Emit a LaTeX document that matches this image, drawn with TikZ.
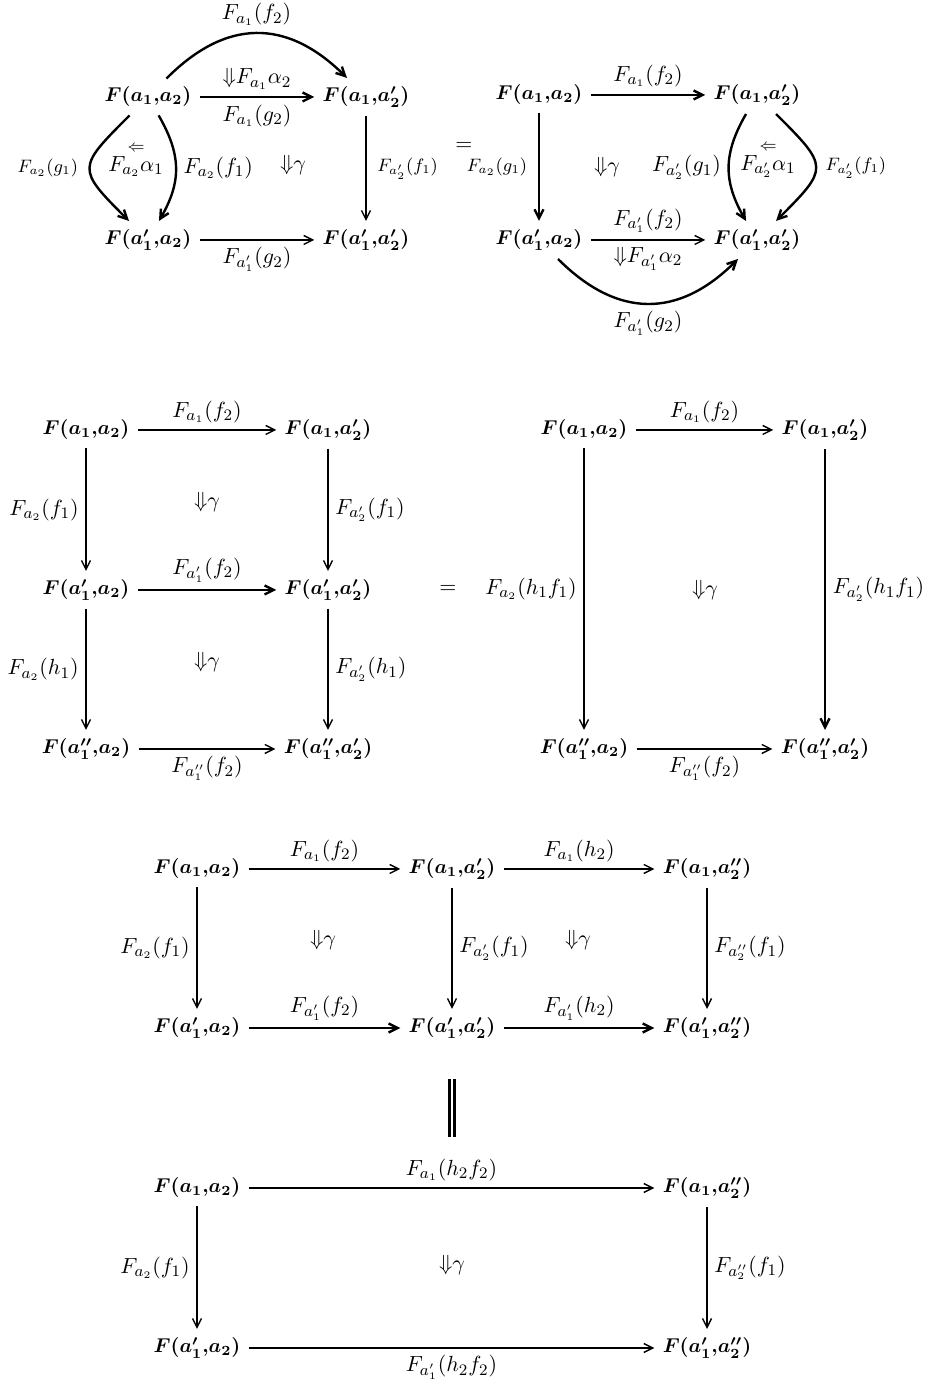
\documentclass[tikz,border=0pt]{standalone}
\usepackage{amsmath}
\usepackage{tikz}
\usetikzlibrary{arrows.meta}
\tikzset{>={Straight Barb[length=4.5pt,width=4.5pt]}}
\tikzset{
    obj/.style={inner sep=4pt},
    arr/.style={->, line width=0.7pt, font=\fontsize{11}{13}\selectfont},
    heavy/.style={line width=1.2pt},
    cell/.style={font=\fontsize{11}{13}\selectfont},
    sm/.style={font=\fontsize{8.6}{10}\selectfont}
}
\newcommand{\objF}[2]{$\boldsymbol{F(#1{,}#2)}$}

\begin{document}
\begin{tikzpicture}[x=0.5pt, y=0.5pt]
    \useasboundingbox (0,0) rectangle (929,1385);

    % first square with the two modifications
    \node[obj] (a11) at (148,1288) {\objF{a_1}{a_2}};
    \node[obj] (a12) at (366,1288) {\objF{a_1}{a_2'}};
    \node[obj] (a21) at (148,1145) {\objF{a_1'}{a_2}};
    \node[obj] (a22) at (366,1145) {\objF{a_1'}{a_2'}};

    \draw[arr, heavy] (a11) to[bend left=45, looseness=1.2] node[above] {$F_{a_1}(f_2)$} (a12);
    \draw[arr, heavy] (a11) -- node[above] {${\Downarrow}F_{a_1}\alpha_2$} node[below] {$F_{a_1}(g_2)$} (a12);
    \draw[arr, heavy] (a11) to[out=-135, in=135, looseness=1.8] node[left, sm, xshift=-2pt] {$F_{a_2}(g_1)$} (a21);
    \draw[arr, heavy] (a11) to[out=-60, in=60, looseness=1.1] node[right] {$F_{a_2}(f_1)$} (a21);
    \draw[arr] (a12) -- node[right, sm, xshift=2pt] {$F_{a_2'}(f_1)$} (a22);
    \draw[arr] (a21) -- node[below] {$F_{a_1'}(g_2)$} (a22);
    \node[cell] (alf1) at (136,1225) {$\overset{\Leftarrow}{F_{a_2}\alpha_1}$};
    \node[cell] (gam1) at (293,1220) {${\Downarrow}\gamma$};

    \node[cell] (eq1) at (464,1238) {$=$};

    % second square
    \node[obj] (b11) at (539,1290) {\objF{a_1}{a_2}};
    \node[obj] (b12) at (757,1290) {\objF{a_1}{a_2'}};
    \node[obj] (b21) at (539,1145) {\objF{a_1'}{a_2}};
    \node[obj] (b22) at (757,1145) {\objF{a_1'}{a_2'}};

    \draw[arr, heavy] (b11) -- node[above] {$F_{a_1}(f_2)$} (b12);
    \draw[arr, heavy] (b11) -- node[left, sm, xshift=-2pt] {$F_{a_2}(g_1)$} (b21);
    \draw[arr, heavy] (b12) to[out=-120, in=120, looseness=1.1] node[left] {$F_{a_2'}(g_1)$} (b22);
    \draw[arr, heavy] (b12) to[out=-45, in=45, looseness=1.8] node[right, sm, xshift=1pt] {$F_{a_2'}(f_1)$} (b22);
    \draw[arr] (b21) -- node[above] {$F_{a_1'}(f_2)$} node[below] {${\Downarrow}F_{a_1'}\alpha_2$} (b22);
    \draw[arr, heavy] (b21) to[bend right=45, looseness=1.2] node[below] {$F_{a_1'}(g_2)$} (b22);
    \node[cell] (gam2) at (607,1218) {${\Downarrow}\gamma$};
    \node[cell] (alf2) at (768,1225) {$\overset{\Leftarrow}{F_{a_2'}\alpha_1}$};

    % vertical composite, left
    \node[obj] (c11) at (86,955) {\objF{a_1}{a_2}};
    \node[obj] (c12) at (328,955) {\objF{a_1}{a_2'}};
    \node[obj] (c21) at (86,795) {\objF{a_1'}{a_2}};
    \node[obj] (c22) at (328,795) {\objF{a_1'}{a_2'}};
    \node[obj] (c31) at (86,636) {\objF{a_1''}{a_2}};
    \node[obj] (c32) at (328,636) {\objF{a_1''}{a_2'}};

    \draw[arr] (c11) -- node[above] {$F_{a_1}(f_2)$} (c12);
    \draw[arr] (c11) -- node[left] {$F_{a_2}(f_1)$} (c21);
    \draw[arr] (c12) -- node[right] {$F_{a_2'}(f_1)$} (c22);
    \draw[arr, heavy] (c21) -- node[above] {$F_{a_1'}(f_2)$} (c22);
    \draw[arr] (c21) -- node[left] {$F_{a_2}(h_1)$} (c31);
    \draw[arr] (c22) -- node[right] {$F_{a_2'}(h_1)$} (c32);
    \draw[arr] (c31) -- node[below] {$F_{a_1''}(f_2)$} (c32);
    \node[cell] (gam3) at (207,883) {${\Downarrow}\gamma$};
    \node[cell] (gam4) at (207,723) {${\Downarrow}\gamma$};

    \node[cell] (eq2) at (448,796) {$=$};

    % vertical composite, right
    \node[obj] (d11) at (584,955) {\objF{a_1}{a_2}};
    \node[obj] (d12) at (825,955) {\objF{a_1}{a_2'}};
    \node[obj] (d21) at (584,636) {\objF{a_1''}{a_2}};
    \node[obj] (d22) at (825,636) {\objF{a_1''}{a_2'}};

    \draw[arr] (d11) -- node[above] {$F_{a_1}(f_2)$} (d12);
    \draw[arr] (d11) -- node[left] {$F_{a_2}(h_1f_1)$} (d21);
    \draw[arr, heavy] (d12) -- node[right] {$F_{a_2'}(h_1f_1)$} (d22);
    \draw[arr] (d21) -- node[below] {$F_{a_1''}(f_2)$} (d22);
    \node[cell] (gam5) at (705,795) {${\Downarrow}\gamma$};

    % horizontal composite
    \node[obj] (e11) at (197,516) {\objF{a_1}{a_2}};
    \node[obj] (e12) at (452,516) {\objF{a_1}{a_2'}};
    \node[obj] (e13) at (707,516) {\objF{a_1}{a_2''}};
    \node[obj] (e21) at (197,357) {\objF{a_1'}{a_2}};
    \node[obj] (e22) at (452,357) {\objF{a_1'}{a_2'}};
    \node[obj] (e23) at (707,357) {\objF{a_1'}{a_2''}};

    \draw[arr] (e11) -- node[above] {$F_{a_1}(f_2)$} (e12);
    \draw[arr] (e12) -- node[above] {$F_{a_1}(h_2)$} (e13);
    \draw[arr] (e11) -- node[left] {$F_{a_2}(f_1)$} (e21);
    \draw[arr] (e12) -- node[right] {$F_{a_2'}(f_1)$} (e22);
    \draw[arr] (e13) -- node[right] {$F_{a_2''}(f_1)$} (e23);
    \draw[arr, heavy] (e21) -- node[above] {$F_{a_1'}(f_2)$} (e22);
    \draw[arr, heavy] (e22) -- node[above] {$F_{a_1'}(h_2)$} (e23);
    \node[cell] (gam6) at (323,445) {${\Downarrow}\gamma$};
    \node[cell] (gam7) at (578,445) {${\Downarrow}\gamma$};

    \coordinate (eqtop) at (452,306);
    \coordinate (eqbot) at (452,248);
    \draw[double, line width=1.5pt, double distance=1pt] (eqtop) -- (eqbot);

    % the pasted square
    \node[obj] (f11) at (197,197) {\objF{a_1}{a_2}};
    \node[obj] (f12) at (707,197) {\objF{a_1}{a_2''}};
    \node[obj] (f21) at (197,37) {\objF{a_1'}{a_2}};
    \node[obj] (f22) at (707,37) {\objF{a_1'}{a_2''}};

    \draw[arr] (f11) -- node[above] {$F_{a_1}(h_2f_2)$} (f12);
    \draw[arr] (f11) -- node[left] {$F_{a_2}(f_1)$} (f21);
    \draw[arr] (f12) -- node[right] {$F_{a_2''}(f_1)$} (f22);
    \draw[arr] (f21) -- node[below] {$F_{a_1'}(h_2f_2)$} (f22);
    \node[cell] (gam8) at (452,120) {${\Downarrow}\gamma$};
\end{tikzpicture}
\end{document}
